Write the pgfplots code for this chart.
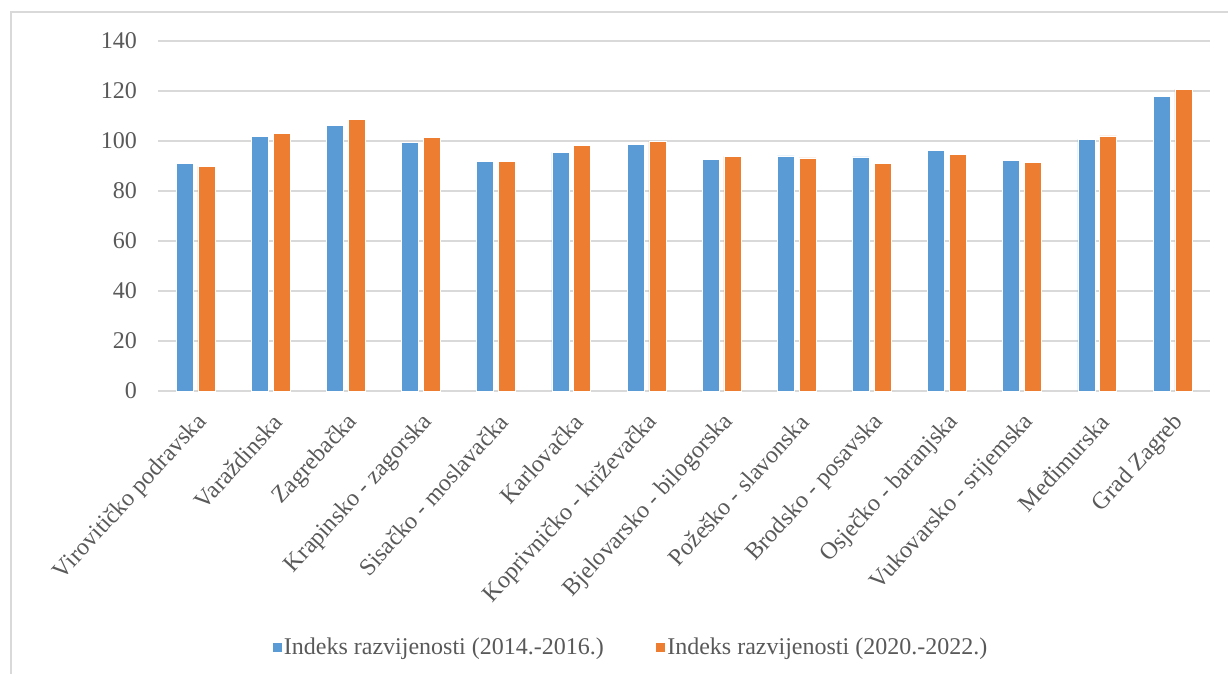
\documentclass[border=0pt]{standalone}
\usepackage{fontspec}
\setmainfont{Liberation Serif}
\usepackage{pgfplots}
\pgfplotsset{compat=1.18}
\definecolor{sblue}{RGB}{91,155,213}
\definecolor{sorange}{RGB}{237,125,49}
\definecolor{gridc}{RGB}{217,217,217}
\definecolor{txt}{RGB}{89,89,89}
\newcommand{\tf}{\fontsize{24bp}{28bp}\selectfont}
\begin{document}
\begin{tikzpicture}
\useasboundingbox (0bp,0bp) rectangle (1228bp,-674bp);
\draw[gridc, line width=1.5bp] (11bp,-12bp) rectangle (1300bp,-720bp);
\begin{axis}[
  at={(158bp,-391bp)}, anchor=south west,
  scale only axis, width=1052bp, height=350bp,
  ybar=4.8bp, bar width=17bp,
  xmin=-0.5, xmax=13.5, ymin=0, ymax=140,
  enlargelimits=false,
  ytick={0,20,...,140},
  xtick={0,...,13},
  xticklabels={Virovitičko podravska, Varaždinska, Zagrebačka, Krapinsko - zagorska, Sisačko - moslavačka, Karlovačka, Koprivničko - križevačka, Bjelovarsko - bilogorska, Požeško - slavonska, Brodsko - posavska, Osječko - baranjska, Vukovarsko - srijemska, Međimurska, Grad Zagreb},
  axis line style={draw=none},
  major tick length=0pt,
  ymajorgrids, grid style={gridc, line width=1.2bp},
  /pgf/number format/assume math mode=true,
  tick label style={font=\tf, text=txt},
  y tick label style={anchor=east, inner sep=0pt, xshift=-21bp},
  x tick label style={rotate=47.5, anchor=east, inner sep=0pt, yshift=-24bp, xshift=-15bp},
  legend style={at={(0.449,-0.731)}, anchor=center, draw=none, fill=none,
    legend columns=2, font=\tf, text=txt,
    /tikz/every even column/.append style={column sep=50bp},
    nodes={inner sep=1.5bp}},
  legend image code/.code={\fill[#1] (0bp,-5bp) rectangle (10bp,5bp);},
]
\addplot[fill=sblue, draw=white, line width=0.5bp] coordinates {
(0,91.0) (1,102.0) (2,106.3) (3,99.4) (4,92.0) (5,95.5) (6,98.8)
(7,92.8) (8,94.1) (9,93.7) (10,96.3) (11,92.4) (12,100.8) (13,118.0)};
\addplot[fill=sorange, draw=white, line width=0.5bp] coordinates {
(0,89.9) (1,103.2) (2,108.7) (3,101.6) (4,91.9) (5,98.3) (6,100.0)
(7,93.9) (8,93.3) (9,91.1) (10,94.7) (11,91.4) (12,102.1) (13,120.8)};
\legend{Indeks razvijenosti (2014.-2016.), Indeks razvijenosti (2020.-2022.)}
\end{axis}
\end{tikzpicture}
\end{document}
